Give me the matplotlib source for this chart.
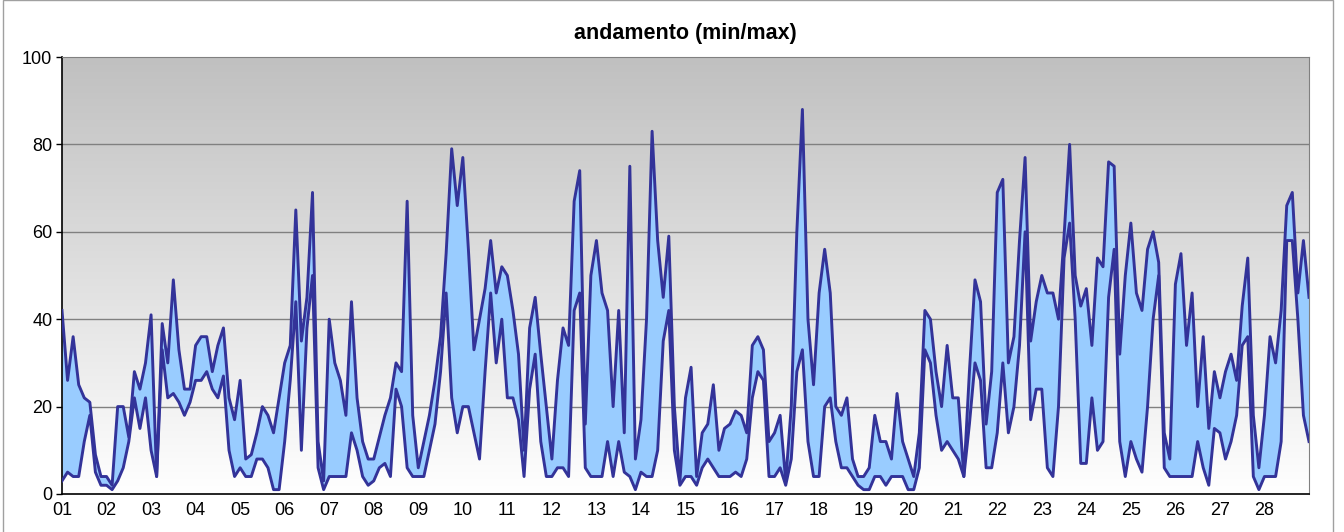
import numpy as np
import matplotlib.pyplot as plt
from matplotlib.patches import Rectangle

plt.rcParams['font.family'] = ['Liberation Sans', 'DejaVu Sans']

# readings every 3 hours (8 per day), 28 days + closing point
hi = [42, 26, 36, 25, 22, 21, 9, 4,
      4, 2, 20, 20, 13, 28, 24, 30,
      41, 4, 39, 30, 49, 33, 24, 24,
      34, 36, 36, 28, 34, 38, 22, 17,
      26, 8, 9, 14, 20, 18, 14, 22,
      30, 34, 65, 35, 45, 69, 12, 3,
      40, 30, 26, 18, 44, 22, 12, 8,
      8, 13, 18, 22, 30, 28, 67, 18,
      6, 12, 18, 26, 36, 55, 79, 66,
      77, 56, 33, 40, 47, 58, 46, 52,
      50, 42, 32, 10, 38, 45, 32, 20,
      8, 26, 38, 34, 67, 74, 16, 50,
      58, 46, 42, 20, 42, 14, 75, 8,
      17, 40, 83, 58, 45, 59, 20, 3,
      22, 29, 4, 14, 16, 25, 10, 15,
      16, 19, 18, 14, 34, 36, 33, 12,
      14, 18, 3, 20, 60, 88, 40, 25,
      46, 56, 46, 20, 18, 22, 8, 4,
      4, 6, 18, 12, 12, 8, 23, 12,
      8, 4, 14, 42, 40, 28, 20, 34,
      22, 22, 4, 28, 49, 44, 16, 28,
      69, 72, 30, 36, 58, 77, 35, 44,
      50, 46, 46, 40, 59, 80, 50, 43,
      47, 34, 54, 52, 76, 75, 32, 50,
      62, 46, 42, 56, 60, 53, 14, 8,
      48, 55, 34, 46, 20, 36, 15, 28,
      22, 28, 32, 26, 43, 54, 18, 6,
      18, 36, 30, 42, 66, 69, 46, 58, 45]
lo = [3, 5, 4, 4, 12, 18, 5, 2,
      2, 1, 3, 6, 12, 22, 15, 22,
      10, 4, 33, 22, 23, 21, 18, 21,
      26, 26, 28, 24, 22, 27, 10, 4,
      6, 4, 4, 8, 8, 6, 1, 1,
      12, 26, 44, 10, 38, 50, 6, 1,
      4, 4, 4, 4, 14, 10, 4, 2,
      3, 6, 7, 4, 24, 20, 6, 4,
      4, 4, 10, 16, 28, 46, 22, 14,
      20, 20, 14, 8, 28, 46, 30, 40,
      22, 22, 17, 4, 24, 32, 12, 4,
      4, 6, 6, 4, 42, 46, 6, 4,
      4, 4, 12, 4, 12, 5, 4, 1,
      5, 4, 4, 10, 35, 42, 10, 2,
      4, 4, 2, 6, 8, 6, 4, 4,
      4, 5, 4, 8, 22, 28, 26, 4,
      4, 6, 2, 8, 28, 33, 12, 4,
      4, 20, 22, 12, 6, 6, 4, 2,
      1, 1, 4, 4, 2, 4, 4, 4,
      1, 1, 6, 33, 30, 18, 10, 12,
      10, 8, 4, 16, 30, 26, 6, 6,
      14, 30, 14, 20, 34, 60, 17, 24,
      24, 6, 4, 20, 54, 62, 40, 7,
      7, 22, 10, 12, 45, 56, 12, 4,
      12, 8, 5, 20, 40, 50, 6, 4,
      4, 4, 4, 4, 12, 6, 2, 15,
      14, 8, 12, 18, 34, 36, 4, 1,
      4, 4, 4, 12, 58, 58, 40, 18, 12]
days = ['%02d' % d for d in range(1, 29)]
per_day = 8

x = np.arange(len(hi))

fig = plt.figure(figsize=(13.44, 5.32), dpi=100)
ax = fig.add_axes([62/1344, 1 - 494/532, (1309 - 62)/1344, (494 - 57)/532])

# gray -> white gradient background
grad = np.linspace(0, 1, 256).reshape(-1, 1)
cmap = plt.matplotlib.colors.LinearSegmentedColormap.from_list('bg', ['#ffffff', '#c0c0c0'])
ax.imshow(grad, aspect='auto', cmap=cmap, origin='lower',
          extent=[0, len(hi) - 1, 0, 100], zorder=0)

for v in [20, 40, 60, 80]:
    ax.axhline(v, color='#808080', lw=1, zorder=1)

ax.fill_between(x, lo, hi, color='#99ccff', lw=0, zorder=2)
ax.plot(x, hi, color='#333399', lw=2.1, zorder=3)
ax.plot(x, lo, color='#333399', lw=2.1, zorder=3)

ax.set_xlim(0, len(hi) - 1)
ax.set_ylim(0, 100)
ax.set_yticks([0, 20, 40, 60, 80, 100])
ax.set_xticks(np.arange(len(days)) * per_day)
ax.set_xticklabels(days)
ax.tick_params(axis='y', labelsize=13, length=4, width=1, pad=3)
ax.tick_params(axis='x', labelsize=13, length=0, pad=6)

ax.spines['left'].set_color('black')
ax.spines['bottom'].set_color('black')
ax.spines['left'].set_linewidth(1.2)
ax.spines['bottom'].set_linewidth(1.2)
ax.spines['top'].set_color('#808080')
ax.spines['right'].set_color('#808080')

fig.text(0.5 * (62 + 1309) / 1344, 1 - 34/532, 'andamento (min/max)',
         ha='center', va='center', fontsize=15.5, fontweight='bold')

fig.patches.append(Rectangle((3/1344, -0.01), (1333 - 3)/1344, 1.0095,
                             transform=fig.transFigure, fill=False,
                             edgecolor='#a0a0a0', lw=1))

plt.savefig('out.png', dpi=100)
